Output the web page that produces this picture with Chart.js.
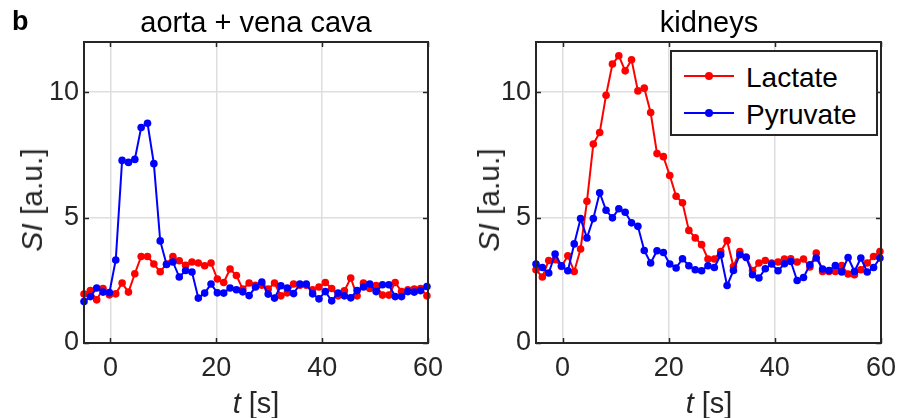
<!DOCTYPE html>
<html>
<head>
<meta charset="utf-8">
<script src="https://cdn.jsdelivr.net/npm/chart.js@4"></script>
<style>
  html, body { margin: 0; padding: 0; background: #fff; }
  #wrap { position: relative; width: 897px; height: 418px; overflow: hidden; font-family: "Liberation Sans", Arial, sans-serif; color: #262626; }
  canvas { position: absolute; top: 0; }
  .txt { position: absolute; white-space: nowrap; line-height: 1; }
  .ttl { font-size: 29px; transform: translate(-50%, -50%); }
  .xl { font-size: 29px; transform: translate(-50%, -50%); }
  .yl { font-size: 30px; transform: translate(-50%, -50%) rotate(-90deg); }
  #legend { position: absolute; left: 670px; top: 50px; width: 208px; height: 86px; border: 2px solid #262626; background: #fff; box-sizing: border-box; }
  .row { position: absolute; left: 0; height: 30px; width: 100%; }
  .ln { position: absolute; left: 12px; top: 14px; width: 50px; height: 2px; }
  .dot { position: absolute; left: 33px; top: 11px; width: 8px; height: 8px; border-radius: 50%; }
  .lt { position: absolute; left: 74px; top: 1px; font-size: 28px; color: #000; }
</style>
</head>
<body>
<div id="wrap">
  <canvas id="c1" width="448" height="418" style="left:0px"></canvas>
  <canvas id="c2" width="449" height="418" style="left:448px"></canvas>
  <div class="txt" style="left:12px; top:8px; font-weight:bold; font-size:27px; color:#000;">b</div>
  <div class="txt ttl" style="left:256px; top:22px; color:#000;">aorta + vena cava</div>
  <div class="txt ttl" style="left:709px; top:22px; color:#000;">kidneys</div>
  <div class="txt xl" style="left:256px; top:403px;"><i>t</i> [s]</div>
  <div class="txt xl" style="left:709px; top:403px;"><i>t</i> [s]</div>
  <div class="txt yl" style="left:32px; top:200px;"><i>SI</i> [a.u.]</div>
  <div class="txt yl" style="left:489px; top:200px;"><i>SI</i> [a.u.]</div>
  <div id="legend">
    <div class="row" style="top:9px;"><div class="ln" style="background:#ff0000"></div><div class="dot" style="background:#ff0000"></div><div class="lt">Lactate</div></div>
    <div class="row" style="top:46px;"><div class="ln" style="background:#0000ff"></div><div class="dot" style="background:#0000ff"></div><div class="lt">Pyruvate</div></div>
  </div>
</div>
<script>
const times = [-5, -3.8, -2.6, -1.4, -0.2, 1, 2.2, 3.4, 4.6, 5.8, 7, 8.2, 9.4, 10.6, 11.8, 13, 14.2, 15.4, 16.6, 17.8,
  19, 20.2, 21.4, 22.6, 23.8, 25, 26.2, 27.4, 28.6, 29.8, 31, 32.2, 33.4, 34.6, 35.8, 37, 38.2, 39.4, 40.6, 41.8,
  43, 44.2, 45.4, 46.6, 47.8, 49, 50.2, 51.4, 52.6, 53.8, 55, 56.2, 57.4, 58.6, 59.8];

const aortaPyruvate = [1.65, 1.85, 2.19, 2.03, 2.01, 3.31, 7.28, 7.2, 7.32, 8.59, 8.76, 7.15, 4.07, 3.13, 3.23, 2.63, 2.89, 2.83, 1.79, 1.99,
  2.35, 2.0, 1.99, 2.19, 2.12, 2.04, 1.89, 2.23, 2.43, 1.95, 1.79, 2.28, 2.19, 1.97, 2.35, 2.35, 1.96, 1.76, 2.05, 1.68,
  1.99, 1.88, 1.8, 2.09, 2.23, 2.35, 2.05, 2.32, 2.32, 1.85, 1.85, 2.05, 2.03, 2.09, 2.25];
const aortaLactate = [1.95, 2.09, 1.72, 2.17, 1.92, 1.96, 2.39, 2.03, 2.76, 3.45, 3.45, 3.15, 2.84, 3.15, 3.45, 3.28, 3.1, 3.23, 3.19, 3.08,
  3.19, 2.55, 2.41, 2.95, 2.69, 2.15, 2.39, 2.3, 2.3, 2.15, 2.39, 1.88, 2.0, 2.35, 2.3, 2.3, 2.12, 2.23, 2.41, 2.17,
  1.88, 2.08, 2.59, 1.88, 2.39, 2.17, 2.29, 1.91, 1.91, 2.41, 2.05, 2.12, 2.15, 2.17, 1.88];
const kidneyLactate = [2.92, 2.63, 3.29, 3.32, 3.05, 3.48, 2.85, 3.75, 5.65, 7.93, 8.39, 9.88, 11.12, 11.45, 10.85, 11.29, 10.05, 10.16, 9.19, 7.55,
  7.43, 6.68, 5.85, 5.59, 4.49, 4.19, 3.92, 3.35, 3.35, 3.65, 4.08, 3.05, 3.65, 3.43, 2.89, 3.19, 3.29, 3.19, 3.23, 3.35,
  3.36, 3.23, 3.35, 3.03, 3.59, 2.85, 2.85, 2.85, 3.09, 2.75, 2.72, 2.92, 3.19, 3.45, 3.65];
const kidneyPyruvate = [3.15, 3.01, 2.79, 3.55, 3.08, 2.88, 3.95, 4.96, 4.19, 4.96, 5.99, 5.29, 4.99, 5.35, 5.21, 4.79, 4.65, 3.69, 3.19, 3.68,
  3.61, 3.15, 2.99, 3.36, 3.08, 2.92, 2.88, 3.08, 3.01, 3.52, 2.29, 2.89, 3.52, 3.41, 2.72, 2.59, 2.96, 3.15, 2.88, 3.16,
  3.25, 2.49, 2.61, 3.12, 3.39, 2.95, 2.89, 3.09, 2.83, 3.41, 2.85, 3.39, 2.83, 3.01, 3.39];

const xTickLabels = [0, 20, 40, 60];
const yTickLabels = [0, 5, 10];
const seriesNames = ['Pyruvate', 'Lactate'];

const RED = '#ff0000', BLUE = '#0000ff', AXIS = '#262626';
const FONT = '"Liberation Sans", Arial, sans-serif';

const boxPlugin = {
  id: 'box',
  afterDraw(chart) {
    const ctx = chart.ctx, a = chart.chartArea;
    const xs = chart.scales.x, ys = chart.scales.y;
    ctx.save();
    ctx.strokeStyle = AXIS;
    ctx.lineWidth = 1.5;
    ctx.beginPath();
    xTickLabels.forEach(v => {
      const p = Math.round(xs.getPixelForValue(v)) + 0.5;
      ctx.moveTo(p, a.bottom); ctx.lineTo(p, a.bottom - 5);
      ctx.moveTo(p, a.top); ctx.lineTo(p, a.top + 5);
    });
    yTickLabels.forEach(v => {
      const p = Math.round(ys.getPixelForValue(v)) + 0.5;
      ctx.moveTo(a.left, p); ctx.lineTo(a.left + 5, p);
      ctx.moveTo(a.right, p); ctx.lineTo(a.right - 5, p);
    });
    ctx.stroke();
    ctx.lineWidth = 2;
    ctx.strokeRect(a.left, a.top, a.right - a.left, a.bottom - a.top);
    ctx.restore();
  }
};

function makeChart(id, pyr, lac, yAxisWidth, padRight) {
  const toPts = arr => arr.map((v, i) => ({ x: times[i], y: v }));
  return new Chart(document.getElementById(id), {
    type: 'line',
    data: {
      datasets: [
        { label: seriesNames[0], data: toPts(pyr), borderColor: BLUE, backgroundColor: BLUE, borderWidth: 2,
          pointRadius: 3.8, pointBorderWidth: 0, pointBackgroundColor: BLUE, tension: 0, clip: false },
        { label: seriesNames[1], data: toPts(lac), borderColor: RED, backgroundColor: RED, borderWidth: 2,
          pointRadius: 3.8, pointBorderWidth: 0, pointBackgroundColor: RED, tension: 0, clip: false }
      ]
    },
    options: {
      responsive: false,
      animation: false,
      devicePixelRatio: 1,
      layout: { padding: { left: 0, top: 42, right: padRight, bottom: 0 } },
      plugins: { legend: { display: false }, tooltip: { enabled: false }, title: { display: false } },
      scales: {
        x: {
          type: 'linear', min: -5, max: 60,
          afterBuildTicks: s => { s.ticks = xTickLabels.map(v => ({ value: v })); },
          afterFit: s => { s.height = 75; s.paddingLeft = 0; s.paddingRight = 0; },
          grid: { color: '#dedede', lineWidth: 1.5, drawTicks: false },
          border: { display: false },
          ticks: { color: AXIS, font: { family: FONT, size: 27 }, padding: 9, maxRotation: 0 }
        },
        y: {
          type: 'linear', min: 0, max: 12,
          afterBuildTicks: s => { s.ticks = yTickLabels.map(v => ({ value: v })); },
          afterFit: s => { s.width = yAxisWidth; s.paddingTop = 0; s.paddingBottom = 0; },
          grid: { color: '#dedede', lineWidth: 1.5, drawTicks: false },
          border: { display: false },
          ticks: { color: AXIS, font: { family: FONT, size: 27 }, padding: 5 }
        }
      }
    },
    plugins: [boxPlugin]
  });
}

makeChart('c1', aortaPyruvate, aortaLactate, 84, 20);
makeChart('c2', kidneyPyruvate, kidneyLactate, 88, 16);
</script>
</body>
</html>
